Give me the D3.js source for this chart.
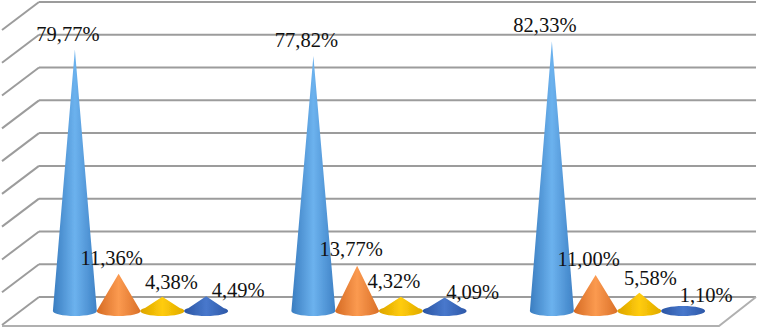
<!DOCTYPE html>
<html>
<head>
<meta charset="utf-8">
<script src="https://cdn.jsdelivr.net/npm/d3@7"></script>
<style>
  html, body { margin: 0; padding: 0; background: #fff; overflow: hidden; }
  text { font-family: "Liberation Serif", serif; font-size: 20.5px; fill: #111; }
</style>
</head>
<body>
<div id="container"></div>
<script>
// Valores
var groups = ["A", "B", "C"];
var seriesNames = ["s1", "s2", "s3", "s4"];
var s1 = [79.77, 77.82, 82.33];
var s2 = [11.36, 13.77, 11.00];
var s3 = [4.38, 4.32, 5.58];
var s4 = [4.49, 4.09, 1.10];
var allSeries = [s1, s2, s3, s4];
var yTicks = [0, 10, 20, 30, 40, 50, 60, 70, 80, 90];

var width = 758, height = 328;

// Profundidad de la caja 3D
var depthX = 37, depthY = 28;
var rx = 22, ry = 5;

var svg = d3.select("#container").append("svg")
    .attr("width", width)
    .attr("height", height);

var defs = svg.append("defs");
var colores = [
    ["#3a7dc0", "#6cb2ee", "#3f82c6"],
    ["#d56a22", "#fb9a50", "#da7028"],
    ["#dca400", "#ffcc0a", "#e0aa00"],
    ["#2b55a3", "#4878cc", "#2d58a8"]
];
colores.forEach(function (c, i) {
    var g = defs.append("linearGradient").attr("id", "cono" + i);
    g.append("stop").attr("offset", "0%").attr("stop-color", c[0]);
    g.append("stop").attr("offset", "50%").attr("stop-color", c[1]);
    g.append("stop").attr("offset", "100%").attr("stop-color", c[2]);
});
defs.append("filter").attr("id", "suave")
    .append("feGaussianBlur").attr("stdDeviation", 0.4);

// Escalas
var y = d3.scaleLinear().domain([0, 90]).range([297, 2]);
var x0 = d3.scaleBand().domain(groups).range([21, 736.5]);
var x1 = d3.scaleBand().domain(seriesNames).range([32, 207]);

// Paredes y piso
var grid = svg.append("g")
    .attr("filter", "url(#suave)")
    .attr("fill", "none")
    .attr("stroke", "#9c9c9c")
    .attr("stroke-width", 2);

grid.selectAll(".h").data(yTicks).enter().append("line")
    .attr("x1", 39).attr("x2", 756)
    .attr("y1", function (d) { return y(d); })
    .attr("y2", function (d) { return y(d); });

grid.selectAll(".d").data(yTicks).enter().append("line")
    .attr("x1", 39).attr("x2", 39 - depthX)
    .attr("y1", function (d) { return y(d); })
    .attr("y2", function (d) { return y(d) + depthY; });

// Frente y lado derecho del piso
grid.append("path")
    .attr("stroke", "#b0b0b0")
    .attr("d", d3.line()([[39 - depthX, y(0) + depthY + 1], [756 - depthX, y(0) + depthY + 1], [756, y(0)]]));

// Conos: triangulo mas la elipse completa de la base
function conePath(cx, top, base) {
    var k = 0.5523;
    var p = d3.path();
    p.moveTo(cx, top);
    p.lineTo(cx - rx, base);
    p.lineTo(cx + rx, base);
    p.closePath();
    p.moveTo(cx - rx, base);
    p.bezierCurveTo(cx - rx, base + ry * k, cx - rx * k, base + ry, cx, base + ry);
    p.bezierCurveTo(cx + rx * k, base + ry, cx + rx, base + ry * k, cx + rx, base);
    p.bezierCurveTo(cx + rx, base - ry * k, cx + rx * k, base - ry, cx, base - ry);
    p.bezierCurveTo(cx - rx * k, base - ry, cx - rx, base - ry * k, cx - rx, base);
    p.closePath();
    return p.toString();
}

var baseOffset = 14;
var conos = svg.append("g").attr("filter", "url(#suave)");
allSeries.forEach(function (serie, i) {
    conos.selectAll(".c" + i).data(serie).enter().append("path")
        .attr("fill", "url(#cono" + i + ")")
        .attr("d", function (d, j) {
            var cx = x0(groups[j]) + x1(seriesNames[i]) + x1.bandwidth() / 2;
            return conePath(cx, y(d) + baseOffset, y(0) + baseOffset);
        });
});

// Ajuste manual de etiquetas [dx, dy] respecto a la punta del cono
var nudges = [
    [[-7, -9], [-7, -9], [-7, -9]],
    [[-7, -9], [-6, -10], [-7, -9]],
    [[9, -8], [-7, -9], [11, -8]],
    [[32, 1], [28, 1], [23, -5]]
];

function etiqueta(v) {
    return v.toFixed(2).replace(".", ",") + "%";
}

allSeries.forEach(function (serie, i) {
    svg.selectAll(".t" + i).data(serie).enter().append("text")
        .attr("text-anchor", "middle")
        .attr("x", function (d, j) {
            return x0(groups[j]) + x1(seriesNames[i]) + x1.bandwidth() / 2 + nudges[i][j][0];
        })
        .attr("y", function (d, j) { return y(d) + baseOffset + nudges[i][j][1]; })
        .text(etiqueta);
});
</script>
</body>
</html>
